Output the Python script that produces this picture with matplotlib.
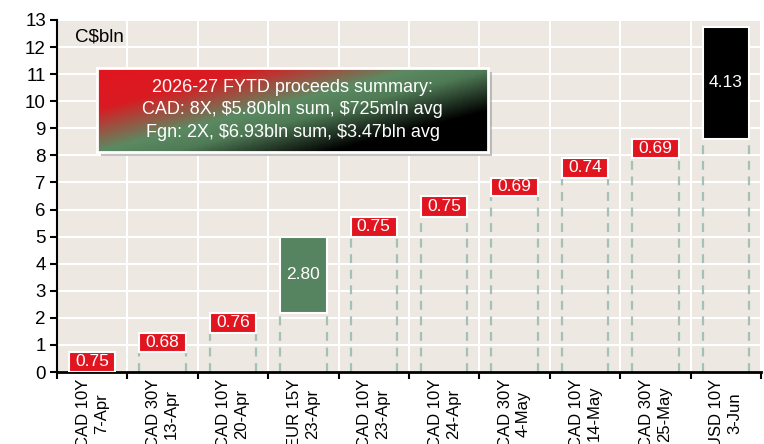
import numpy as np
import matplotlib.pyplot as plt
from matplotlib.colors import LinearSegmentedColormap
from matplotlib.patches import Rectangle

plt.rcParams['font.family'] = ['Liberation Sans', 'DejaVu Sans']

# data
issues = ['CAD 10Y', 'CAD 30Y', 'CAD 10Y', 'EUR 15Y', 'CAD 10Y',
          'CAD 10Y', 'CAD 30Y', 'CAD 10Y', 'CAD 30Y', 'USD 10Y']
dates = ['7-Apr', '13-Apr', '20-Apr', '23-Apr', '23-Apr',
         '24-Apr', '4-May', '14-May', '25-May', '3-Jun']
proceeds = [0.75, 0.68, 0.76, 2.80, 0.75, 0.75, 0.69, 0.74, 0.69, 4.13]
kinds = ['cad', 'cad', 'cad', 'eur', 'cad', 'cad', 'cad', 'cad', 'cad', 'usd']
summary = ['2026-27 FYTD proceeds summary:',
           'CAD: 8X, \\$5.80bln sum, \\$725mln avg',
           'Fgn: 2X, \\$6.93bln sum, \\$3.47bln avg']

colors = {'cad': '#e1151f', 'eur': '#578460', 'usd': '#000000'}

W, H = 764, 444
fig = plt.figure(figsize=(W / 100, H / 100), dpi=100)
ax = fig.add_axes([57 / W, (H - 372) / H, 704 / W, 352 / H])
ax.set_facecolor('#ede8e1')

x = np.arange(len(proceeds))
vals = np.array(proceeds)
bottoms = np.concatenate([[0], np.cumsum(vals)[:-1]])
bw = 0.66

ax.bar(x, vals, bw, bottom=bottoms, color=[colors[k] for k in kinds],
       edgecolor='white', linewidth=1.5, zorder=3)
for i in range(len(x)):
    if bottoms[i] > 0:
        ax.vlines([x[i] - bw / 2, x[i] + bw / 2], 0, bottoms[i],
                  colors='#a3c1b6', linestyles=(0, (4, 3)), linewidth=1.6, zorder=2)
    ax.text(x[i], bottoms[i] + vals[i] / 2, f'{vals[i]:.2f}', color='white',
            ha='center', va='center', fontsize=12.5, zorder=4)

ax.set_xlim(-0.5, len(x) - 0.5)
ax.set_ylim(0, 13)
ax.set_yticks(range(0, 14))
ax.set_xticks(x)
ax.set_xticklabels([f'{a}\n{b}' for a, b in zip(issues, dates)], rotation=90,
                   fontsize=12, linespacing=1.25)
ax.set_xticks(np.arange(-0.5, len(x)), minor=True)
ax.tick_params(axis='x', which='major', length=0, pad=5)
ax.tick_params(axis='x', which='minor', length=5, width=1.5, direction='out')
ax.tick_params(axis='y', length=5, width=1.5, labelsize=13.5, pad=3)
ax.grid(which='minor', axis='x', color='white', linewidth=1.5)
ax.grid(which='major', axis='y', color='white', linewidth=1.5)
ax.set_axisbelow(True)
for s in ['top', 'right']:
    ax.spines[s].set_visible(False)
ax.spines['bottom'].set_linewidth(2)
ax.spines['left'].set_linewidth(1.5)

ax.text(0.025, 0.975, 'C$bln', transform=ax.transAxes, fontsize=13.5,
        ha='left', va='top')

# summary box with gradient
bx, by, bwid, bht = 97, 68, 391, 84
fig.patches.append(Rectangle(((bx + 4) / W, (H - by - bht - 4) / H), bwid / W, bht / H,
                             transform=fig.transFigure, facecolor='#9a9a9a',
                             edgecolor='none', alpha=0.6, zorder=5))
bax = fig.add_axes([bx / W, (H - by - bht) / H, bwid / W, bht / H], zorder=6)
px, py = np.meshgrid(np.linspace(0, bwid, 200), np.linspace(0, bht, 60))
t = (84 * px + 320 * py) / (84 * bwid + 320 * bht)
cmap = LinearSegmentedColormap.from_list('g', [(0, '#e3151f'), (0.22, '#d91b22'),
                                               (0.45, '#5b8a62'), (0.56, '#4f7a55'),
                                               (0.78, '#000000'), (1, '#000000')])
bax.imshow(t, cmap=cmap, aspect='auto', extent=[0, 1, 1, 0], vmin=0, vmax=1)
bax.set_xticks([])
bax.set_yticks([])
for s in bax.spines.values():
    s.set_color('white')
    s.set_linewidth(2)
bax.text(0.5, 0.5, '\n'.join(summary), transform=bax.transAxes, ha='center',
         va='center', color='white', fontsize=13, linespacing=1.4)

fig.savefig('out.png', dpi=100)
